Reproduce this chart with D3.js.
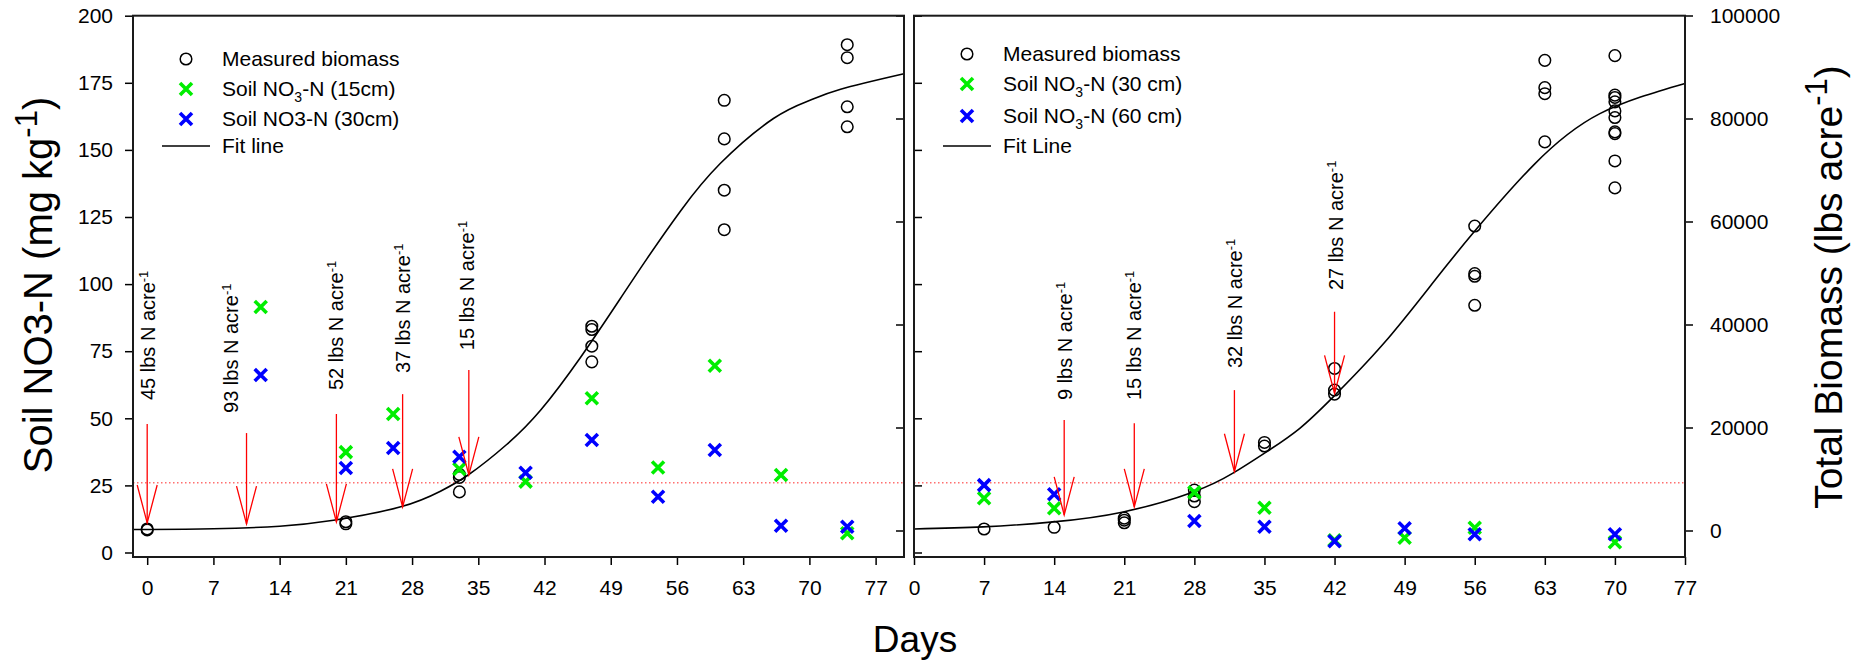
<!DOCTYPE html>
<html>
<head>
<meta charset="utf-8">
<script src="https://cdn.jsdelivr.net/npm/d3@7"></script>
<style>
  body { margin: 0; background: #fff; }
  svg { font-family: "Liberation Sans", Arial, Helvetica, sans-serif; }
</style>
</head>
<body>
<div id="chart"></div>
<script>
// Axis ticks
const no3Ticks = [0, 25, 50, 75, 100, 125, 150, 175, 200];
const biomassTicks = [0, 20000, 40000, 60000, 80000, 100000];
const dayTicks = [0, 7, 14, 21, 28, 35, 42, 49, 56, 63, 70, 77];

// Critical soil NO3-N level (dotted red line)
const threshold = 26;

// Left panel: measured biomass (lbs/acre)
const leftBiomassDays = [0, 0, 21, 21, 33, 33, 33, 47, 47, 47, 47, 61, 61, 61, 61, 74, 74, 74, 74];
const leftBiomass = [100, 300, 1300, 1700, 10900, 10300, 7500, 39660, 39020, 35780, 32750, 83530, 76040, 66070, 58400, 94330, 91810, 82280, 78390];

// Left panel: soil NO3-N (mg/kg)
const leftNo3Days = [12, 21, 26, 33, 40, 47, 54, 60, 67, 74];
const leftNo3Shallow = [91.5, 37.4, 51.6, 31.1, 26.4, 57.5, 31.7, 69.6, 28.9, 7.2];
const leftNo3Deep = [66.1, 31.5, 38.9, 35.7, 29.7, 41.9, 20.8, 38.2, 10.0, 9.6];

// Left panel: fit line
const leftFitDays = [-1.5, 0, 7, 14, 19.7, 26.8, 31, 34, 38, 41.6, 45.8, 50, 52.8, 56.4, 60.6, 66.2, 70, 73.3, 80];
const leftFitBiomass = [180, 200, 330, 840, 2000, 4600, 7630, 10870, 16700, 23400, 33600, 45000, 52700, 62100, 71300, 80000, 83500, 85700, 88700];

// Left panel: N applications
const leftArrowDays = [0, 10.5, 20, 27, 34];
const leftArrowTop = [47.9, 44.5, 51.6, 59.0, 68.0];
const leftArrowTip = [11.0, 10.6, 11.4, 17.0, 28.9];
const leftArrowRates = ["45", "93", "52", "37", "15"];
const leftLabelDays = [0.85, 9.6, 20.7, 27.8, 34.5];
const leftLabelBase = [56.8, 52.0, 60.5, 66.9, 75.4];

// Right panel: measured biomass (lbs/acre)
const rightBiomassDays = [7, 14, 21, 21, 21, 28, 28, 28, 35, 35, 42, 42, 42, 56, 56, 56, 56, 63, 63, 63, 63,
  70, 70, 70, 70, 70, 70, 70, 70, 70, 70];
const rightBiomass = [290, 620, 2400, 2000, 1500, 7860, 6700, 5590, 17100, 16400, 31460, 27270, 26490,
  59120, 49880, 49360, 43730, 91290, 85990, 84820, 75460,
  92200, 84530, 84080, 83230, 81480, 80190, 77400, 77070, 71760, 66520];

// Right panel: soil NO3-N (mg/kg)
const rightNo3Days = [7, 14, 28, 35, 42, 49, 56, 70];
const rightNo3Shallow = [20.2, 16.5, 22.4, 16.7, 4.6, 5.5, 9.2, 3.8];
const rightNo3Deep = [25.1, 21.7, 11.7, 9.6, 4.2, 9.0, 6.8, 6.8];

// Right panel: fit line
const rightFitDays = [0, 6.9, 13.9, 20.9, 27.9, 31.9, 35.2, 38.5, 41.9, 46.9, 51.9, 55.9, 61.9, 68.5, 77];
const rightFitBiomass = [290, 700, 1670, 3610, 7490, 11180, 15260, 19800, 26000, 36300, 48300, 57900, 71000, 80940, 86800];

// Right panel: N applications
const rightArrowDays = [15, 22, 32, 42];
const rightArrowTop = [49.4, 48.2, 60.5, 89.7];
const rightArrowTip = [14.0, 17.0, 30.1, 59.3];
const rightArrowRates = ["9", "15", "32", "27"];
const rightLabelDays = [15.8, 22.7, 32.8, 42.8];
const rightLabelBase = [56.8, 56.8, 68.7, 97.8];

// Legends
const leftLegend = ["Measured biomass", "Soil NO|3|-N (15cm)", "Soil NO3-N (30cm)", "Fit line"];
const rightLegend = ["Measured biomass", "Soil NO|3|-N (30 cm)", "Soil NO|3|-N (60 cm)", "Fit Line"];

/************************************
 * Build the chart
 ************************************/
document.addEventListener('DOMContentLoaded', () => {
  const w = 1862;
  const h = 661;
  const top = 15.7;
  const bottom = 557;
  const green = "#00ee00";
  const blue = "#0000ff";
  const red = "#ff0000";

  const svg = d3.select("#chart")
    .append("svg")
    .attr("width", w)
    .attr("height", h);

  const yNo3 = d3.scaleLinear().domain([0, 200]).range([552.5, 15.7]);
  const yBio = d3.scaleLinear().domain([0, 100000]).range([530.5, 15.5]);

  const panels = [
    {
      x0: 133, x1: 904, domain: [-1.5, 80], side: "left",
      bioDays: leftBiomassDays, bio: leftBiomass,
      no3Days: leftNo3Days, shallow: leftNo3Shallow, deep: leftNo3Deep,
      fitDays: leftFitDays, fit: leftFitBiomass,
      arrDays: leftArrowDays, arrTop: leftArrowTop, arrTip: leftArrowTip,
      rates: leftArrowRates, labDays: leftLabelDays, labBase: leftLabelBase,
      legend: leftLegend, legX: 186, legY: 59, legRows: [0, 30, 60, 87]
    },
    {
      x0: 914, x1: 1685, domain: [0, 77], side: "right",
      bioDays: rightBiomassDays, bio: rightBiomass,
      no3Days: rightNo3Days, shallow: rightNo3Shallow, deep: rightNo3Deep,
      fitDays: rightFitDays, fit: rightFitBiomass,
      arrDays: rightArrowDays, arrTop: rightArrowTop, arrTip: rightArrowTip,
      rates: rightArrowRates, labDays: rightLabelDays, labBase: rightLabelBase,
      legend: rightLegend, legX: 967, legY: 54, legRows: [0, 30, 62, 92]
    }
  ];

  const cross = "M-6,-6L6,6M-6,6L6,-6";

  panels.forEach(p => {
    const x = d3.scaleLinear().domain(p.domain).range([p.x0, p.x1]);
    const g = svg.append("g");

    // dotted threshold line
    g.append("line")
      .attr("x1", p.x0).attr("x2", p.x1)
      .attr("y1", yNo3(threshold)).attr("y2", yNo3(threshold))
      .attr("stroke", "#ff6f6f")
      .attr("stroke-width", 1.5)
      .attr("stroke-dasharray", "1.5,2.5");

    // biomass circles
    g.selectAll("circle.bio")
      .data(p.bioDays.map((d, i) => [d, p.bio[i]]))
      .enter()
      .append("circle")
      .attr("class", "bio")
      .attr("cx", d => x(d[0]))
      .attr("cy", d => yBio(d[1]))
      .attr("r", 5.8)
      .attr("fill", "none")
      .attr("stroke", "#000")
      .attr("stroke-width", 1.5);

    // fit line
    const line = d3.line()
      .x(d => x(d[0]))
      .y(d => yBio(d[1]))
      .curve(d3.curveNatural);
    g.append("path")
      .datum(p.fitDays.map((d, i) => [d, p.fit[i]]))
      .attr("d", line)
      .attr("fill", "none")
      .attr("stroke", "#000")
      .attr("stroke-width", 1.6);

    // soil NO3 crosses
    [[p.shallow, green], [p.deep, blue]].forEach(([vals, col]) => {
      g.selectAll(null)
        .data(p.no3Days.map((d, i) => [d, vals[i]]))
        .enter()
        .append("path")
        .attr("d", cross)
        .attr("transform", d => "translate(" + x(d[0]) + "," + yNo3(d[1]) + ")")
        .attr("stroke", col)
        .attr("stroke-width", 3.6)
        .attr("fill", "none");
    });

    // N application arrows
    p.arrDays.forEach((d, i) => {
      const ax = x(d);
      const tipY = yNo3(p.arrTip[i]);
      g.append("line")
        .attr("x1", ax).attr("x2", ax)
        .attr("y1", yNo3(p.arrTop[i])).attr("y2", tipY)
        .attr("stroke", red)
        .attr("stroke-width", 1.3);
      g.append("path")
        .attr("d", "M" + (ax - 10) + "," + (tipY - 38) + "L" + ax + "," + tipY + "L" + (ax + 10) + "," + (tipY - 38))
        .attr("fill", "none")
        .attr("stroke", red)
        .attr("stroke-width", 1.3);

      const t = g.append("text")
        .attr("transform", "translate(" + x(p.labDays[i]) + "," + yNo3(p.labBase[i]) + ") rotate(-90)")
        .attr("font-size", 20)
        .attr("fill", "#000");
      t.append("tspan").text(p.rates[i] + " lbs N acre");
      t.append("tspan").attr("font-size", 13).attr("dy", -7).text("-1");
    });

    // axes
    const styleAxis = sel => {
      sel.select(".domain").remove();
      sel.selectAll("line").attr("stroke", "#000").attr("stroke-width", 1.5);
      sel.selectAll("text").attr("font-size", 21).attr("fill", "#000")
        .attr("font-family", '"Liberation Sans", Arial, sans-serif');
    };

    g.append("g")
      .attr("transform", "translate(0," + bottom + ")")
      .call(d3.axisBottom(x).tickValues(dayTicks).tickSize(8).tickPadding(15))
      .call(styleAxis);

    if (p.side === "left") {
      g.append("g")
        .attr("transform", "translate(" + p.x0 + ",0)")
        .call(d3.axisLeft(yNo3).tickValues(no3Ticks).tickSize(8).tickPadding(12))
        .call(styleAxis);
      g.append("g")
        .attr("transform", "translate(" + p.x1 + ",0)")
        .call(d3.axisLeft(yBio).tickValues(biomassTicks).tickSize(8).tickFormat(""))
        .call(styleAxis);
    } else {
      g.append("g")
        .attr("transform", "translate(" + p.x0 + ",0)")
        .call(d3.axisRight(yNo3).tickValues(no3Ticks).tickSize(8).tickFormat(""))
        .call(styleAxis);
      g.append("g")
        .attr("transform", "translate(" + p.x1 + ",0)")
        .call(d3.axisRight(yBio).tickValues(biomassTicks).tickSize(8).tickPadding(17).tickFormat(d3.format("d")))
        .call(styleAxis);
    }

    // frame
    g.append("rect")
      .attr("x", p.x0).attr("y", top)
      .attr("width", p.x1 - p.x0).attr("height", bottom - top)
      .attr("fill", "none")
      .attr("stroke", "#1a1a1a")
      .attr("stroke-width", 2);

    // legend
    const leg = g.append("g");
    p.legend.forEach((label, i) => {
      const ly = p.legY + p.legRows[i];
      if (i === 0) {
        leg.append("circle").attr("cx", p.legX).attr("cy", ly).attr("r", 5.8)
          .attr("fill", "none").attr("stroke", "#000").attr("stroke-width", 1.5);
      } else if (i === 3) {
        leg.append("line").attr("x1", p.legX - 24).attr("x2", p.legX + 24)
          .attr("y1", ly).attr("y2", ly)
          .attr("stroke", "#000").attr("stroke-width", 1.6);
      } else {
        leg.append("path").attr("d", cross)
          .attr("transform", "translate(" + p.legX + "," + ly + ")")
          .attr("stroke", i === 1 ? green : blue)
          .attr("stroke-width", 3.6).attr("fill", "none");
      }
      const t = leg.append("text")
        .attr("x", p.legX + 36)
        .attr("y", ly + 7)
        .attr("font-size", 21)
        .attr("fill", "#000");
      const parts = label.split("|");
      t.append("tspan").text(parts[0]);
      if (parts.length > 1) {
        t.append("tspan").attr("font-size", 14).attr("dy", 6).text(parts[1]);
        t.append("tspan").attr("dy", -6).text(parts[2]);
      }
    });
  });

  // Axis titles
  const yTitle = svg.append("text")
    .attr("transform", "translate(52,285) rotate(-90)")
    .attr("text-anchor", "middle")
    .attr("font-size", 40)
    .attr("fill", "#000");
  yTitle.append("tspan").text("Soil NO3-N (mg kg");
  yTitle.append("tspan").attr("font-size", 31).attr("dy", -15).text("-1");
  yTitle.append("tspan").attr("dy", 15).text(")");

  const y2Title = svg.append("text")
    .attr("transform", "translate(1842,287) rotate(-90)")
    .attr("text-anchor", "middle")
    .attr("font-size", 39)
    .attr("fill", "#000");
  y2Title.append("tspan").text("Total Biomass (lbs acre");
  y2Title.append("tspan").attr("font-size", 31).attr("dy", -15).text("-1");
  y2Title.append("tspan").attr("dy", 15).text(")");

  svg.append("text")
    .attr("x", 915)
    .attr("y", 652)
    .attr("text-anchor", "middle")
    .attr("font-size", 37)
    .attr("fill", "#000")
    .text("Days");
});
</script>
</body>
</html>
